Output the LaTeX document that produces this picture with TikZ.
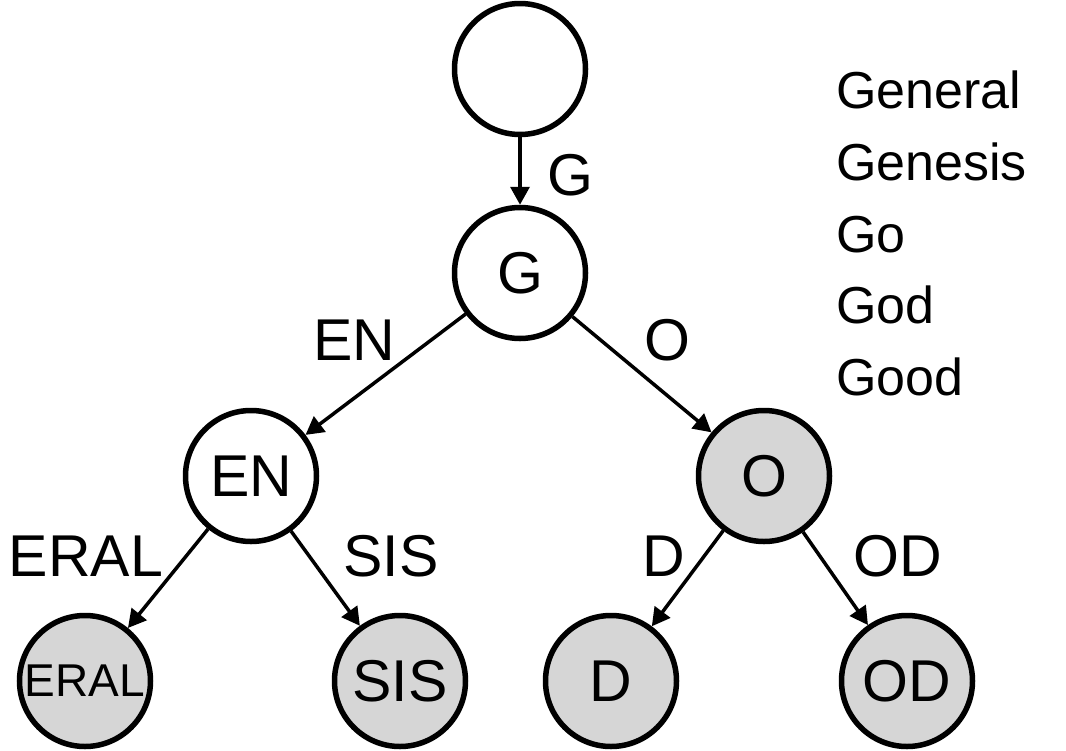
\documentclass[tikz,border=0pt]{standalone}
\usepackage{fontspec}
\setmainfont{Liberation Sans}
\usetikzlibrary{arrows.meta}
\definecolor{leafgray}{HTML}{D6D6D6}

\begin{document}
\begin{tikzpicture}[x=1pt, y=-1pt,
  tnode/.style={draw, circle, line width=5.5pt, minimum size=131pt,
                inner sep=0pt, font=\fontsize{59}{70}\selectfont},
  tleaf/.style={tnode, fill=leafgray},
  tedge/.style={line width=3.5pt, -{Triangle[length=18pt,width=19pt]}},
  elabel/.style={inner sep=0pt, font=\fontsize{59}{70}\selectfont},
  wlabel/.style={inner sep=0pt, anchor=base west, font=\fontsize{52}{62}\selectfont}]
\useasboundingbox (0,0) rectangle (1066,750);

% trie
\node[tnode] (root) at (520,69) {};
\node[tnode] (g) at (520,273) {G};
\node[tnode] (en) at (251,476) {EN};
\node[tleaf] (o) at (764,476) {O};
\node[tleaf, font=\fontsize{46}{55}\selectfont] (eral) at (85,681) {ERAL};
\node[tleaf] (sis) at (400,681) {SIS};
\node[tleaf] (d) at (611,681) {D};
\node[tleaf] (od) at (907,681) {OD};

\draw[tedge] (root) -- (g);
\draw[tedge] (g) -- (en);
\draw[tedge] (g) -- (o);
\draw[tedge] (en) -- (eral);
\draw[tedge] (en) -- (sis);
\draw[tedge] (o) -- (d);
\draw[tedge] (o) -- (od);

% edge labels
\node[elabel] (lg) at (570,175) {G};
\node[elabel] (len) at (354,340) {EN};
\node[elabel] (lo) at (667,340) {O};
\node[elabel] (leral) at (86,556) {ERAL};
\node[elabel] (lsis) at (391,556) {SIS};
\node[elabel] (ld) at (664,556) {D};
\node[elabel] (lod) at (898,556) {OD};

% words
\node[wlabel] (w1) at (836,108) {General};
\node[wlabel] (w2) at (836,180) {Genesis};
\node[wlabel] (w3) at (836,252) {Go};
\node[wlabel] (w4) at (836,323) {God};
\node[wlabel] (w5) at (836,395) {Good};
\end{tikzpicture}
\end{document}
